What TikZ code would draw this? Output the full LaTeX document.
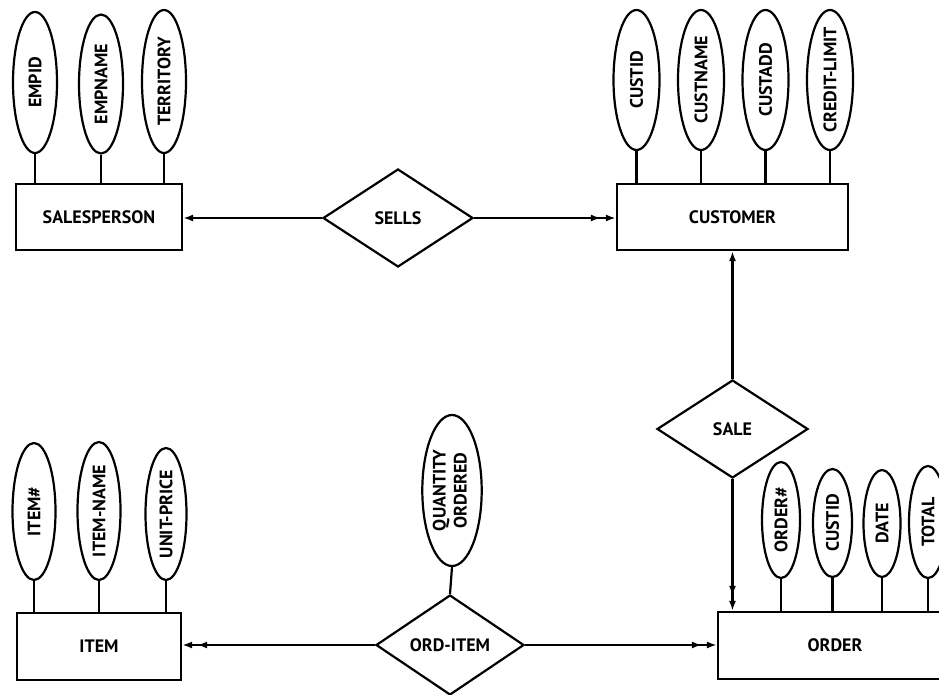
\documentclass[tikz,border=0pt]{standalone}
\usepackage{fontspec}
\setmainfont{PT Sans}
\usetikzlibrary{shapes.geometric,arrows.meta}
\begin{document}
\begin{tikzpicture}[x=1pt,y=-1pt,
  line width=2.2pt,
  lbl/.style={font=\fontsize{18}{21}\selectfont\bfseries},
  ent/.style={draw, rectangle, inner sep=0pt, minimum height=66pt, lbl},
  attr/.style={draw, ellipse, inner xsep=0pt, inner ysep=-12pt, lbl},
  rel/.style={draw, diamond, inner sep=0pt, lbl},
  one/.style={-{Latex[length=10pt,width=7pt]}},
  many/.style={-{Latex[length=10pt,width=7pt,sep=5pt]Latex[length=10pt,width=7pt]}}]
\useasboundingbox (0,0) rectangle (939,695);
\clip (0,0) rectangle (939,695);
\fill[white] (0,0) rectangle (939,695);

% entities
\node[ent, minimum width=166pt] (sp) at (99,217) {SALESPERSON};
\node[ent, minimum width=231pt] (cu) at (732.5,217) {CUSTOMER};
\node[ent, minimum width=164pt, minimum height=67pt] (it) at (99,646.5) {ITEM};
\node[ent, minimum width=234pt, minimum height=67pt] (or) at (835,645.5) {ORDER};

% relationships
\node[rel, minimum width=150pt, minimum height=98pt] (sells) at (398,218) {SELLS};
\node[rel, minimum width=151pt, minimum height=98pt] (sale) at (732.5,429) {SALE};
\node[rel, minimum width=148pt, minimum height=100pt] (oi) at (450,645) {ORD-ITEM};

% salesperson attributes
\node[attr, minimum width=44pt, minimum height=141pt] (e1) at (35,82.5) {\rotatebox{90}{EMPID}};
\node[attr, minimum width=44pt, minimum height=139pt] (e2) at (101,84) {\rotatebox{90}{EMPNAME}};
\node[attr, minimum width=44pt, minimum height=143pt] (e3) at (164,81.5) {\rotatebox{90}{TERRITORY}};

% customer attributes
\node[attr, minimum width=46pt, minimum height=140pt] (c1) at (636.5,80) {\rotatebox{90}{CUSTID}};
\node[attr, minimum width=46pt, minimum height=140pt] (c2) at (701,80) {\rotatebox{90}{CUSTNAME}};
\node[attr, minimum width=46pt, minimum height=140pt] (c3) at (765.5,80) {\rotatebox{90}{CUSTADD}};
\node[attr, minimum width=46pt, minimum height=140pt] (c4) at (830,80) {\rotatebox{90}{CREDIT-LIMIT}};

% item attributes
\node[attr, minimum width=43pt, minimum height=137pt] (i1) at (34,511.5) {\rotatebox{90}{ITEM\#}};
\node[attr, minimum width=43pt, minimum height=138pt] (i2) at (99,511) {\rotatebox{90}{ITEM-NAME}};
\node[attr, minimum width=41pt, minimum height=132pt] (i3) at (166,514) {\rotatebox{90}{UNIT-PRICE}};

% order attributes
\node[attr, minimum width=38pt, minimum height=116pt] (o1) at (781,520) {\rotatebox{90}{ORDER\#}};
\node[attr, minimum width=39pt, minimum height=108pt] (o2) at (832.5,523) {\rotatebox{90}{CUSTID}};
\node[attr, minimum width=37pt, minimum height=107pt] (o3) at (882,523.5) {\rotatebox{90}{DATE}};
\node[attr, minimum width=38pt, minimum height=112pt] (o4) at (928,522) {\rotatebox{90}{TOTAL}};

% relationship attribute
\node[attr, minimum width=58pt, minimum height=151pt] (q) at (452,490.5)
  {\rotatebox{90}{\begin{tabular}{@{}c@{}}QUANTITY\\[0pt]ORDERED\end{tabular}}};

% attribute links
\foreach \a in {e1,e2,e3} \draw (\a.south) -- (\a.south |- sp.north);
\foreach \a in {c1,c2,c3,c4} \draw (\a.south) -- (\a.south |- cu.north);
\foreach \a in {i1,i2,i3} \draw (\a.south) -- (\a.south |- it.north);
\foreach \a in {o1,o2,o3,o4} \draw (\a.south) -- (\a.south |- or.north);
\draw (q.south) -- (oi.north);

% relationship links
\draw[one] (sells.west) -- (sells.west -| sp.east);
\draw[many] (sells.east) -- (sells.east -| cu.west);
\draw[one] (sale.north) -- (sale.north |- cu.south);
\draw[many] (sale.south) -- (sale.south |- or.north);
\draw[many] (oi.west) -- (oi.west -| it.east);
\draw[many] (oi.east) -- (oi.east -| or.west);
\end{tikzpicture}
\end{document}
